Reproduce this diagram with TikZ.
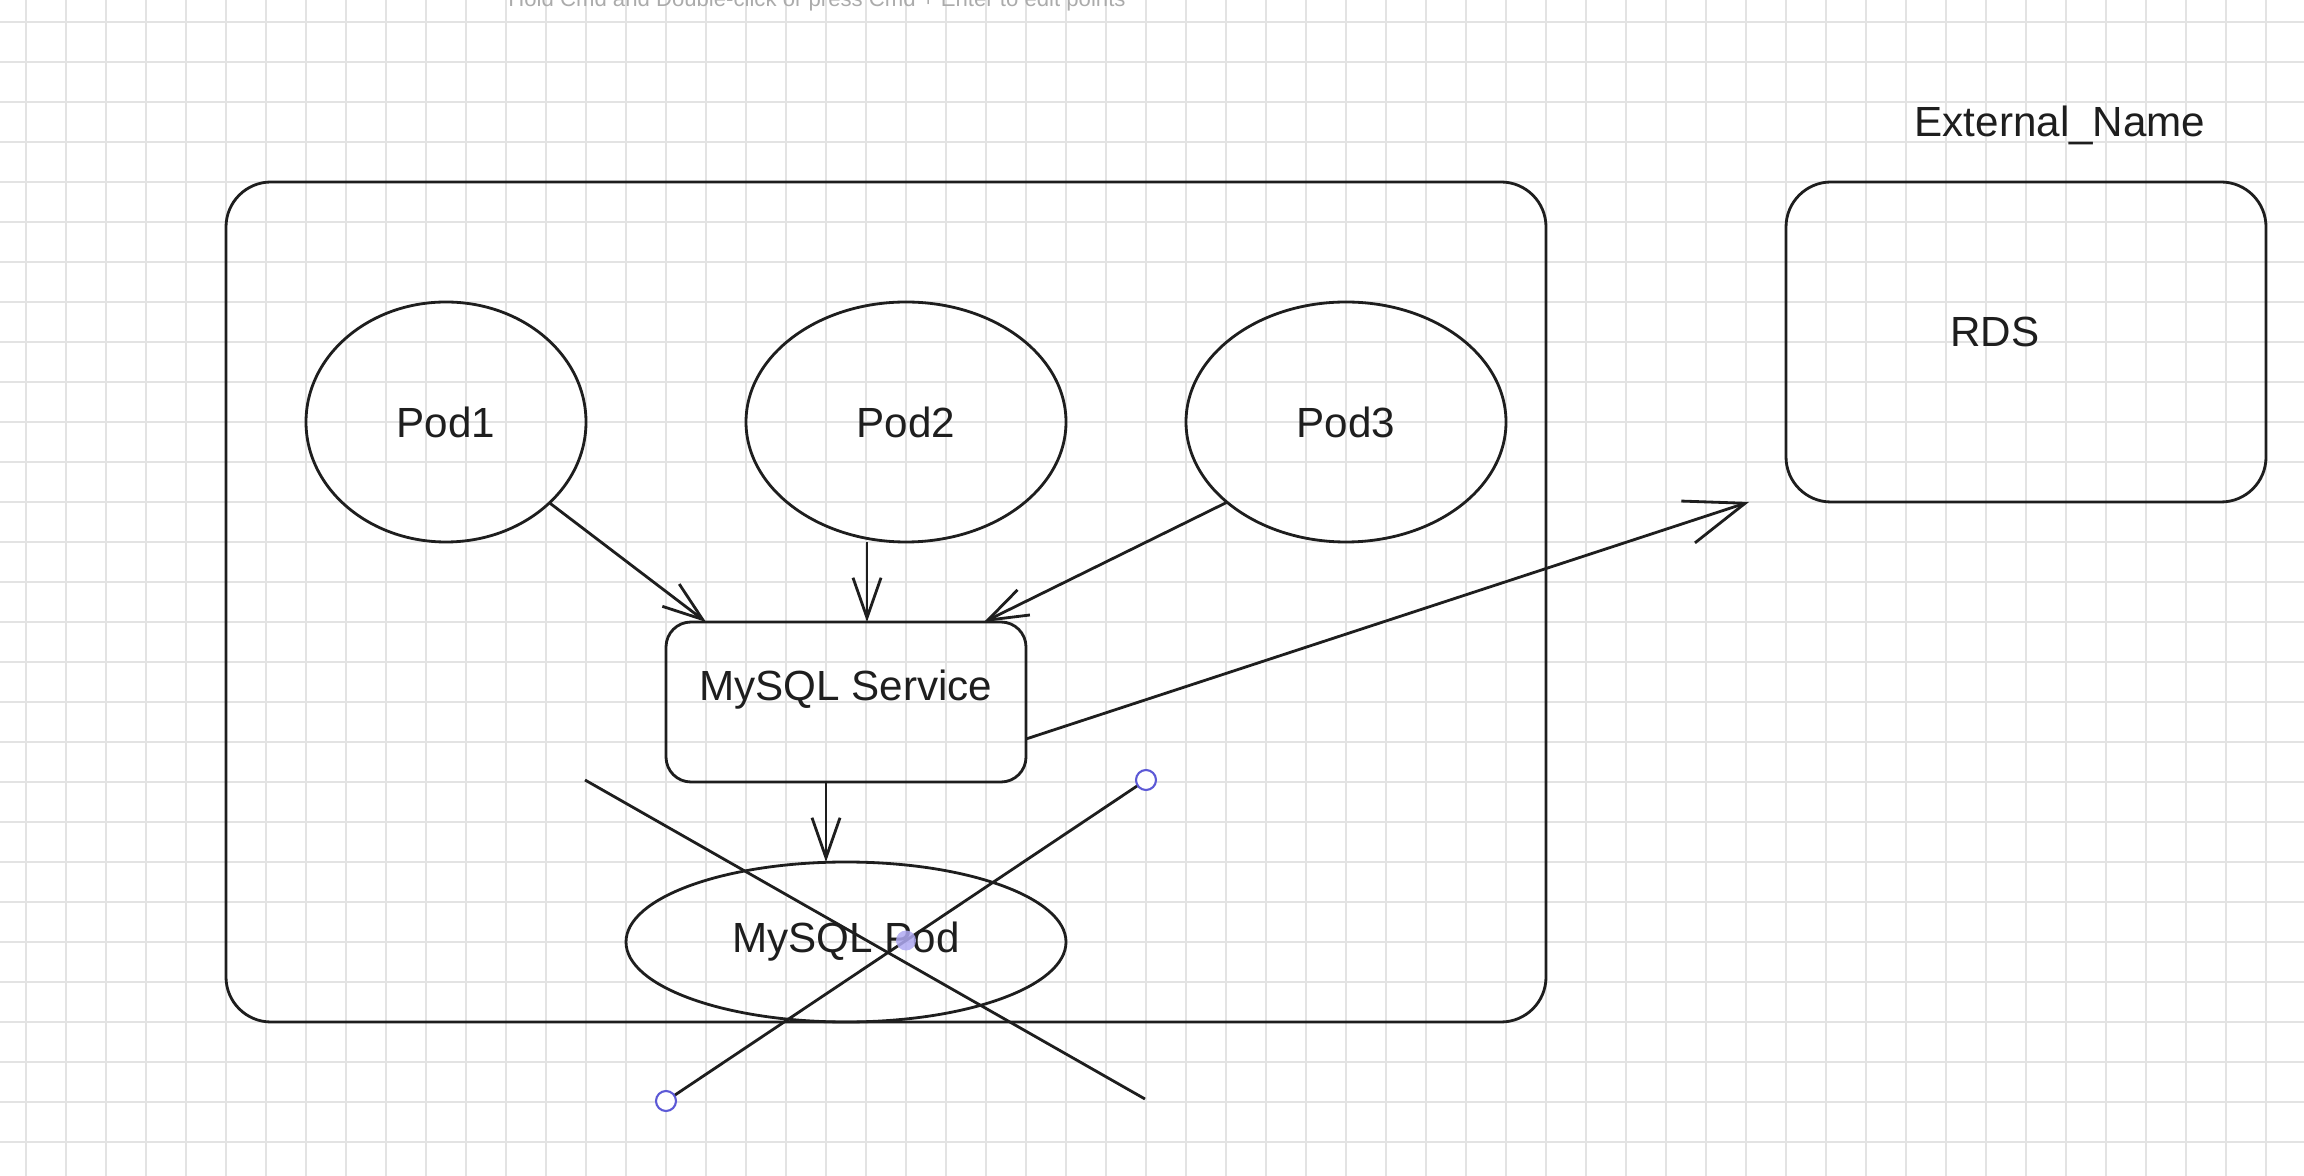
\documentclass[tikz,border=0pt]{standalone}
\usepackage{fontspec}
\setmainfont{Liberation Sans}
\usetikzlibrary{shapes.geometric,arrows.meta}
\definecolor{ink}{HTML}{1E1E1E}
\definecolor{gridgray}{HTML}{E3E3E3}
\definecolor{selblue}{HTML}{5C59D6}
\definecolor{selfill}{HTML}{AFA9F2}
\definecolor{hintgray}{HTML}{ABABAB}

\begin{document}
\begin{tikzpicture}[
    sketch/.style={draw=ink, line width=0.8pt, inner sep=0pt, outer sep=0pt},
    pod/.style={sketch, ellipse, minimum height=2.4cm},
    box/.style={sketch, rectangle, rounded corners=#1},
    lbl/.style={font=\fontsize{12}{14}\selectfont, text=ink},
    arr/.style={draw=ink, line width=0.8pt, line join=round, -{Straight Barb[length=4mm,width=2.8mm]}},
    bigarr/.style={arr, -{Straight Barb[length=6mm,width=4.4mm]}},
    gridline/.style={draw=gridgray, line width=0.5pt},
    handle/.style={draw=selblue, fill=white, line width=0.6pt},
    hint/.style={font=\fontsize{6.3}{7}\selectfont, text=hintgray, anchor=base}
  ]
    \useasboundingbox (0,0) rectangle (23.04,-11.76);
    \clip (0,0) rectangle (23.04,-11.76);
    % grid
    \foreach \i in {0,...,56} {
      \draw[gridline] ({0.26+0.4*\i},0) -- ++(0,-11.76);
    }
    \foreach \j in {0,...,28} {
      \draw[gridline] (0,{-0.22-0.4*\j}) -- ++(23.04,0);
    }
    \node[hint] (hint) at (8.17,-0.07) {Hold Cmd and Double-click or press Cmd + Enter to edit points};
    % cluster
    \node[box=0.45cm, minimum width=13.2cm, minimum height=8.4cm] (cluster) at (8.86,-6.02) {};
    \node[pod, minimum width=2.8cm, lbl] (pod1) at (4.46,-4.22) {Pod1};
    \node[pod, minimum width=3.2cm, lbl] (pod2) at (9.06,-4.22) {Pod2};
    \node[pod, minimum width=3.2cm, lbl] (pod3) at (13.46,-4.22) {Pod3};
    \node[box=0.25cm, minimum width=3.6cm, minimum height=1.6cm, lbl] (svc) at (8.46,-7.02) {\raisebox{0.12cm}[\height][\depth]{MySQL Service}};
    \node[pod, minimum width=4.4cm, minimum height=1.6cm, lbl] (mypod) at (8.46,-9.42) {MySQL Pod};
    % external
    \node[box=0.45cm, minimum width=4.8cm, minimum height=3.2cm] (rds) at (20.26,-3.42) {};
    \node[lbl] (rdsname) at (19.95,-3.32) {RDS};
    \node[lbl] (extname) at (20.6,-1.25) {External\_Name};
    % arrows
    \coordinate (p2out) at ([xshift=-0.39cm]pod2.south);
    \coordinate (svcout) at ([xshift=-0.2cm]svc.south);
    \coordinate (rdsin) at ([xshift=-0.37cm]rds.south west);
    \draw[arr] (pod1.-38) -- ([xshift=0.4cm]svc.north west);
    \draw[arr] (p2out) -- (p2out |- svc.north);
    \draw[arr] (pod3.-146) -- ([xshift=-0.42cm]svc.north east);
    \draw[arr] (svcout) -- (svcout |- mypod.north);
    \draw[bigarr] ([yshift=-0.37cm]svc.east) -- (rdsin);
    % cross
    \coordinate (xa1) at (5.85,-7.80);
    \coordinate (xa2) at (11.45,-10.99);
    \coordinate (xb1) at (6.66,-11.01);
    \coordinate (xb2) at (11.46,-7.80);
    \draw[sketch] (xa1) -- (xa2);
    \draw[sketch] (xb1) -- (xb2) coordinate[pos=0.5] (xbmid);
    \foreach \h in {xb1,xb2} {
      \draw[handle] (\h) circle (0.1);
    }
    \fill[selfill, opacity=0.85] (xbmid) circle (0.1);
  \end{tikzpicture}
\end{document}
